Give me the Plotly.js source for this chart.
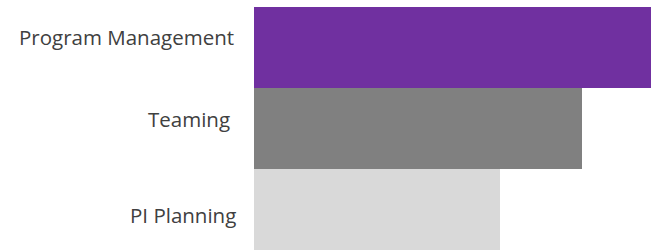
<!DOCTYPE html>
<html>
<head>
<meta charset="utf-8">
<script src="https://cdn.plot.ly/plotly-3.0.1.min.js"></script>
<style>html,body{margin:0;padding:0;background:#fff;}#chart{width:651px;height:250px;}</style>
</head>
<body>
<div id="chart"></div>
<script>
var categories = ["Program Management", "Teaming", "PI Planning"];
var values = [4.84, 4.0, 3.0];
var colors = ["#7030A0", "#808080", "#D9D9D9"];
var labelShiftX = [-18, -22, -16];
var labelShiftY = [11, 10, -5];

var trace = {
  type: "bar",
  orientation: "h",
  y: categories,
  x: values,
  marker: {color: colors, line: {width: 0}},
  hoverinfo: "none"
};

var annotations = categories.map(function (c, i) {
  return {
    xref: "paper", yref: "y", x: 0, y: c,
    xanchor: "right", yanchor: "middle",
    xshift: labelShiftX[i], yshift: labelShiftY[i],
    text: c, showarrow: false,
    font: {family: "Open Sans", size: 20.5, color: "#404040"}
  };
});

var layout = {
  width: 651, height: 250,
  margin: {l: 254, r: 0, t: 7, b: 0, pad: 0},
  paper_bgcolor: "#fff", plot_bgcolor: "#fff",
  bargap: 0,
  showlegend: false,
  xaxis: {range: [0, 4.84], visible: false, fixedrange: true},
  yaxis: {type: "category", categoryarray: categories, autorange: "reversed", showticklabels: false, showgrid: false, zeroline: false, ticks: "", showline: false},
  annotations: annotations
};

Plotly.newPlot("chart", [trace], layout, {displayModeBar: false, staticPlot: true});
</script>
</body>
</html>
